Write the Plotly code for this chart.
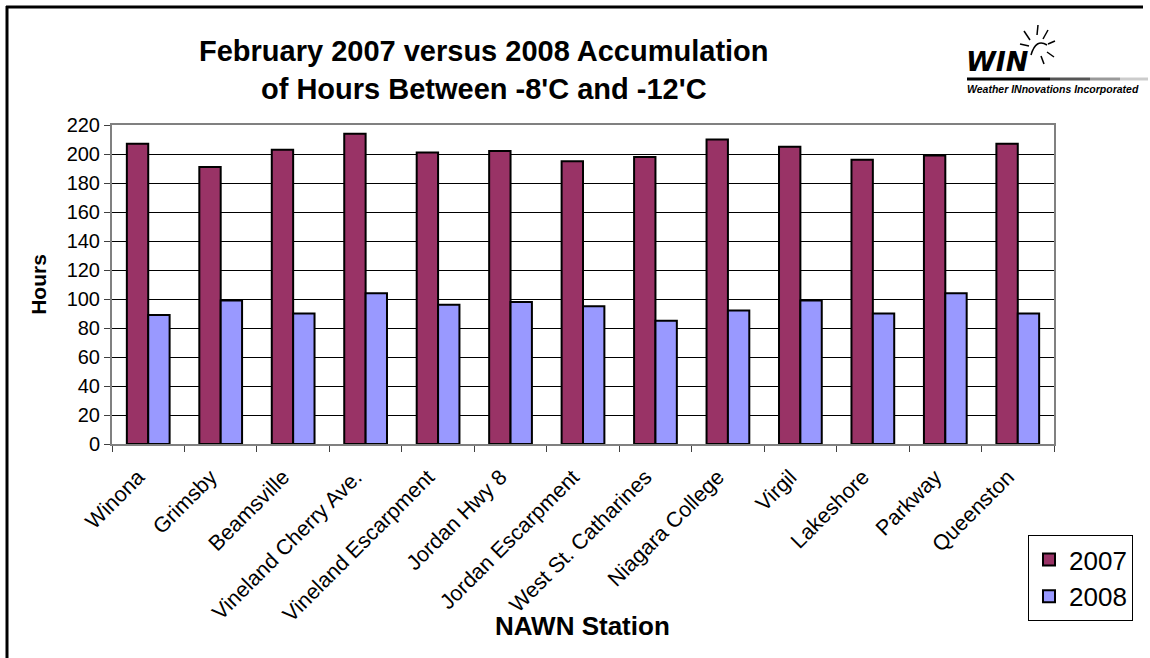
import plotly.graph_objects as go

stations = ["Winona", "Grimsby", "Beamsville", "Vineland Cherry Ave.", "Vineland Escarpment",
            "Jordan Hwy 8", "Jordan Escarpment", "West St. Catharines", "Niagara College",
            "Virgil", "Lakeshore", "Parkway", "Queenston"]
hours_2007 = [207, 191, 203, 214, 201, 202, 195, 198, 210, 205, 196, 199, 207]
hours_2008 = [89, 99, 90, 104, 96, 98, 95, 85, 92, 99, 90, 104, 90]
y_ticks = [0, 20, 40, 60, 80, 100, 120, 140, 160, 180, 200, 220]

W, H = 1150, 658
L, R, T, B = 112, 1054, 125, 444
FONT = "Arial, Liberation Sans, Helvetica, sans-serif"


def px(x):
    return (x - L) / (R - L)


def py(y):
    return (B - y) / (B - T)


fig = go.Figure()
fig.add_trace(go.Bar(x=stations, y=hours_2007, name="2007", legendgroup="a",
                     marker=dict(color="#993366", line=dict(color="black", width=2))))
fig.add_trace(go.Bar(x=stations, y=hours_2008, name="2008", legendgroup="b",
                     marker=dict(color="#9999FF", line=dict(color="black", width=2))))

shapes = [
    # outer frame (left and top)
    dict(type="line", xref="paper", yref="paper", x0=px(7), x1=px(7), y0=py(6), y1=py(700),
         line=dict(color="black", width=3)),
    dict(type="line", xref="paper", yref="paper", x0=px(6), x1=px(1143), y0=py(7), y1=py(7),
         line=dict(color="black", width=3)),
]

# logo underline (fading bar)
segs = [(967, 1050, "#000000"), (1050, 1090, "#555555"), (1090, 1120, "#999999"), (1120, 1148, "#cccccc")]
for a, b, c in segs:
    shapes.append(dict(type="line", xref="paper", yref="paper", x0=px(a), x1=px(b), y0=py(79), y1=py(79),
                       line=dict(color=c, width=3)))
# sun arc and rays
shapes.append(dict(type="path", xref="paper", yref="paper",
                   path="M %f,%f Q %f,%f %f,%f" % (px(1031), py(55), px(1036), py(38), px(1047), py(45)),
                   line=dict(color="black", width=1.5)))
rays = [(1024, 31, 1030, 40), (1038, 25, 1037, 35), (1048, 30, 1043, 39),
        (1055, 41, 1048, 44), (1054, 57, 1047, 52), (1020, 44, 1029, 46), (1044, 64, 1041, 56)]
for x0, y0, x1, y1 in rays:
    shapes.append(dict(type="line", xref="paper", yref="paper", x0=px(x0), x1=px(x1), y0=py(y0), y1=py(y1),
                       line=dict(color="black", width=1.5)))

annotations = [
    dict(text="<b>February 2007 versus 2008 Accumulation<br>of Hours Between -8'C and -12'C</b>",
         x=px(484), y=py(70), xref="paper", yref="paper", showarrow=False, xanchor="center", yanchor="middle",
         font=dict(family=FONT, size=29, color="black")),
    dict(text="<b>NAWN Station</b>", x=px(582), y=py(626), xref="paper", yref="paper", showarrow=False,
         xanchor="center", yanchor="middle", font=dict(family=FONT, size=26, color="black")),
    dict(text="<b><i>WIN</i></b>", x=px(964), y=py(62), xref="paper", yref="paper", showarrow=False,
         xanchor="left", yanchor="middle", font=dict(family="DejaVu Sans", size=27, color="black")),
    dict(text="<b><i>Weather INnovations Incorporated</i></b>", x=px(965), y=py(89), xref="paper", yref="paper",
         showarrow=False, xanchor="left", yanchor="middle", font=dict(family=FONT, size=10.5, color="black")),
]

fig.update_layout(
    width=W, height=H,
    margin=dict(l=L, r=W - R, t=T, b=H - B),
    paper_bgcolor="white", plot_bgcolor="white",
    barmode="group", bargap=0.41, bargroupgap=0,
    font=dict(family=FONT, color="black"),
    showlegend=True,
    legend=dict(x=px(1028), y=py(535), xanchor="left", yanchor="top",
                bordercolor="black", borderwidth=1, bgcolor="white",
                font=dict(family=FONT, size=26), tracegroupgap=0, traceorder="normal"),
    xaxis=dict(tickangle=-45, tickfont=dict(family=FONT, size=21.5), showgrid=False,
               ticks="outside", tickson="boundaries", ticklen=6, tickcolor="#404040",
               ticklabelshift=-10, ticklabelstandoff=10,
               showline=True, linecolor="#808080", linewidth=2, mirror=True),
    yaxis=dict(range=[0, 220], tickvals=y_ticks, tickfont=dict(family=FONT, size=20),
               showgrid=True, gridcolor="black", gridwidth=1,
               ticks="outside", ticklen=6, tickcolor="#404040",
               showline=True, linecolor="#808080", linewidth=2, mirror=True,
               title=dict(text="<b>Hours</b>", font=dict(family=FONT, size=21), standoff=14)),
    shapes=shapes,
    annotations=annotations,
)

fig.write_html("out.html", config={"displayModeBar": False},
               post_script="document.body.style.margin='0';document.body.style.padding='0';")
